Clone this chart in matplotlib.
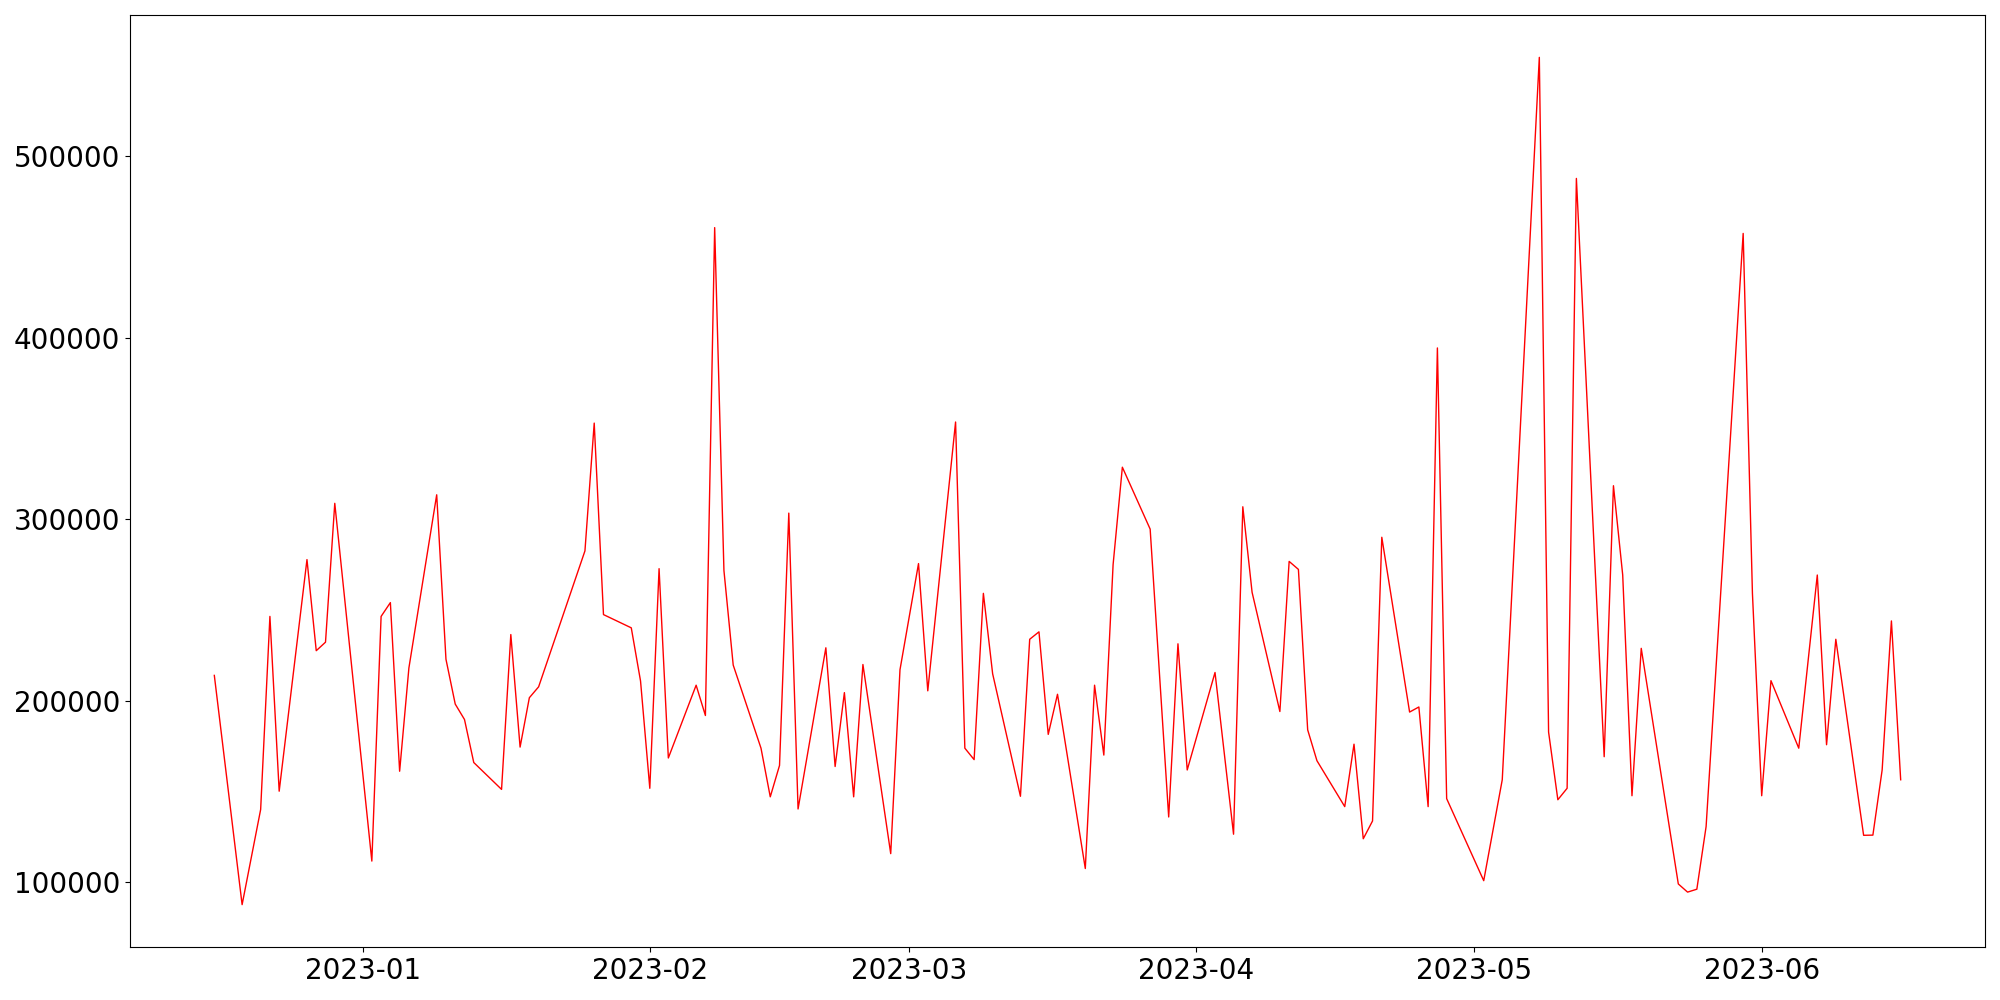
import matplotlib
matplotlib.use("Agg")
import matplotlib.pyplot as plt
import matplotlib.dates as mdates
import pandas as pd

# trading days, with their values
dates = [
    "2022-12-16", "2022-12-19", "2022-12-21", "2022-12-22", "2022-12-23",
    "2022-12-26", "2022-12-27", "2022-12-28", "2022-12-29",
    "2023-01-02", "2023-01-03", "2023-01-04", "2023-01-05", "2023-01-06",
    "2023-01-09", "2023-01-10", "2023-01-11", "2023-01-12", "2023-01-13",
    "2023-01-16", "2023-01-17", "2023-01-18", "2023-01-19", "2023-01-20",
    "2023-01-25", "2023-01-26", "2023-01-27",
    "2023-01-30", "2023-01-31", "2023-02-01", "2023-02-02", "2023-02-03",
    "2023-02-06", "2023-02-07", "2023-02-08", "2023-02-09", "2023-02-10",
    "2023-02-13", "2023-02-14", "2023-02-15", "2023-02-16", "2023-02-17",
    "2023-02-20", "2023-02-21", "2023-02-22", "2023-02-23", "2023-02-24",
    "2023-02-27", "2023-02-28", "2023-03-02", "2023-03-03",
    "2023-03-06", "2023-03-07", "2023-03-08", "2023-03-09", "2023-03-10",
    "2023-03-13", "2023-03-14", "2023-03-15", "2023-03-16", "2023-03-17",
    "2023-03-20", "2023-03-21", "2023-03-22", "2023-03-23", "2023-03-24",
    "2023-03-27", "2023-03-29", "2023-03-30", "2023-03-31",
    "2023-04-03", "2023-04-05", "2023-04-06", "2023-04-07",
    "2023-04-10", "2023-04-11", "2023-04-12", "2023-04-13", "2023-04-14",
    "2023-04-17", "2023-04-18", "2023-04-19", "2023-04-20", "2023-04-21",
    "2023-04-24", "2023-04-25", "2023-04-26", "2023-04-27", "2023-04-28",
    "2023-05-02", "2023-05-04",
    "2023-05-08", "2023-05-09", "2023-05-10", "2023-05-11", "2023-05-12",
    "2023-05-15", "2023-05-16", "2023-05-17", "2023-05-18", "2023-05-19",
    "2023-05-23", "2023-05-24", "2023-05-25", "2023-05-26",
    "2023-05-30", "2023-05-31", "2023-06-01", "2023-06-02",
    "2023-06-05", "2023-06-07", "2023-06-08", "2023-06-09",
    "2023-06-12", "2023-06-13", "2023-06-14", "2023-06-15", "2023-06-16",
]

values = [
    214100, 87800, 140200, 246600, 150300,
    277900, 227700, 232400, 308900,
    111800, 246600, 254200, 161300, 218200,
    313600, 223000, 198300, 189800, 166100,
    151300, 236600, 174600, 201800, 207800,
    282700, 353100, 247600,
    240300, 211000, 151900, 272900, 168600,
    208700, 192000, 460800, 271900, 219800,
    174000, 147200, 164500, 303500, 140500,
    229300, 163900, 204600, 147200, 220100,
    115900, 217200, 275700, 205600,
    353700, 174000, 167700, 259300, 215000,
    147500, 234000, 238100, 181600, 203700,
    107700, 208700, 170200, 275100, 328800,
    294700, 136100, 231500, 162000,
    215700, 126600, 307000, 259900,
    194200, 276900, 272500, 184100, 167100,
    141800, 176200, 124100, 133900, 290200,
    193900, 196700, 141800, 394500, 146200,
    101000, 156600,
    554600, 182900, 145600, 151900, 487900,
    169300, 318600, 269400, 147800, 229000,
    99200, 94700, 96300, 130800,
    457600, 259300, 147800, 211200,
    174000, 269400, 175900, 234000,
    126000, 126100, 162000, 244100, 156600,
]

x = pd.to_datetime(dates)

fig, ax = plt.subplots(figsize=(20, 10), dpi=100)
fig.subplots_adjust(left=0.065, right=0.9925, top=0.985, bottom=0.053)

ax.plot(x, values, color="red", linewidth=1)

ax.xaxis.set_major_locator(mdates.MonthLocator())
ax.xaxis.set_major_formatter(mdates.DateFormatter("%Y-%m"))
ax.tick_params(labelsize=20)

fig.savefig("out.png", dpi=100)
